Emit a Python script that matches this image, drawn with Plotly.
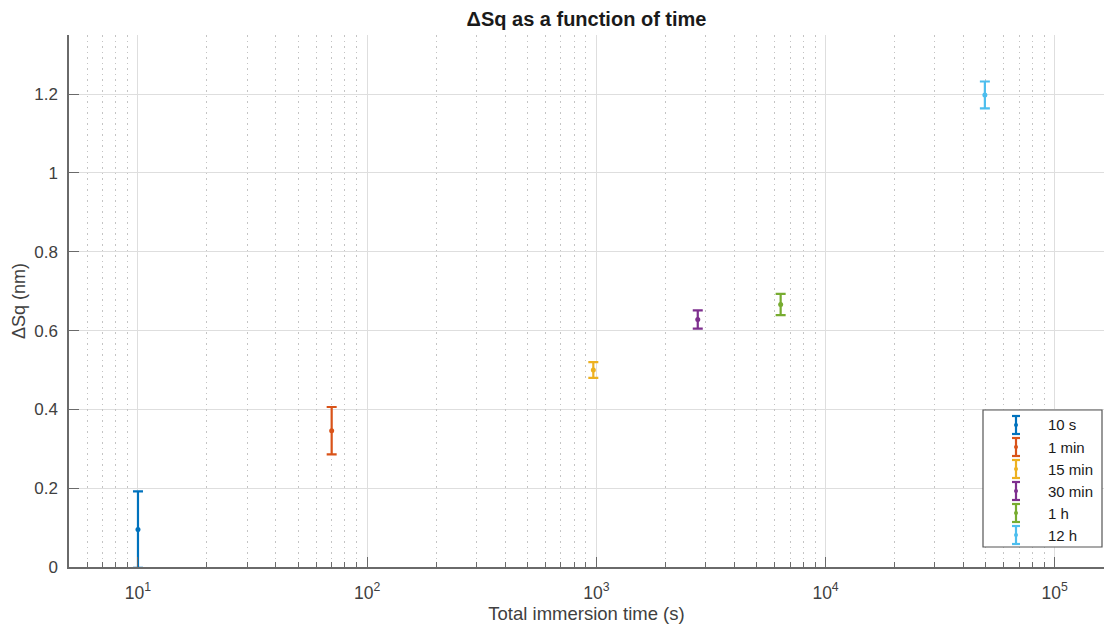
import plotly.graph_objects as go

categories = ["10 s", "1 min", "15 min", "30 min", "1 h", "12 h"]
times = [10, 70, 970, 2770, 6370, 49570]
dsq = [0.095, 0.346, 0.500, 0.628, 0.666, 1.198]
err = [0.097, 0.060, 0.020, 0.023, 0.027, 0.034]
colors = ["#0072BD", "#D95319", "#EDB120", "#7E2F8E", "#77AC30", "#4DBEEE"]

x_tickvals = [10, 100, 1000, 10000, 100000]
x_ticktext = ["10<sup>1</sup>", "10<sup>2</sup>", "10<sup>3</sup>", "10<sup>4</sup>", "10<sup>5</sup>"]
y_tickvals = [0, 0.2, 0.4, 0.6, 0.8, 1.0, 1.2]
y_ticktext = ["0", "0.2", "0.4", "0.6", "0.8", "1", "1.2"]

W, H = 1106, 628
L, R, T, B = 69, 2, 35, 61
pw, ph = W - L - R, H - T - B
xrange_log = [0.699, 5.215]

minor_vals = [m * 10 ** d for d in range(0, 6) for m in range(2, 10)
              if 10 ** xrange_log[0] <= m * 10 ** d <= 10 ** xrange_log[1]]

fig = go.Figure()
# invisible trace to anchor the minor-grid axis
fig.add_trace(go.Scatter(x=[times[0]], y=[dsq[0]], xaxis="x2", yaxis="y", mode="markers",
                         marker=dict(opacity=0), showlegend=False, hoverinfo="skip"))
for c, t, v, e, col in zip(categories, times, dsq, err, colors):
    fig.add_trace(go.Scatter(
        x=[t], y=[v], mode="markers", name=c, showlegend=False,
        marker=dict(color=col, size=5),
        error_y=dict(type="data", array=[e], color=col, thickness=2.2, width=5),
        cliponaxis=False,
    ))

font_family = "Liberation Sans, Arial, sans-serif"
axis_col = "#6a6a6a"
label_col = "#404040"

fig.update_layout(
    width=W, height=H,
    margin=dict(l=L, r=R, t=T, b=B),
    paper_bgcolor="white", plot_bgcolor="white",
    font=dict(family=font_family, color=label_col, size=15),
    title=dict(text="<b>ΔSq as a function of time</b>", x=(L + pw / 2) / W, xanchor="center",
               y=1 - 19 / H, yanchor="middle", font=dict(size=20, color="#1a1a1a")),
    xaxis=dict(
        type="log", range=xrange_log,
        tickvals=x_tickvals, ticktext=x_ticktext,
        showline=True, linecolor=axis_col, linewidth=1.5,
        ticks="inside", ticklen=10, tickcolor=axis_col, tickwidth=1,
        showgrid=True, gridcolor="#dedede", gridwidth=1,
        zeroline=False, mirror=False,
        tickfont=dict(size=17.5, color=label_col),
        ticklabelstandoff=9,
        title=dict(text="Total immersion time (s)", font=dict(size=18.5, color=label_col), standoff=5),
    ),
    xaxis2=dict(
        type="log", range=xrange_log, overlaying="x", anchor="y", side="bottom",
        tickmode="array", tickvals=minor_vals,
        ticks="inside", ticklen=5, tickcolor=axis_col, tickwidth=1,
        showgrid=True, gridcolor="#c4c4c4", griddash="1.5px,4px", gridwidth=1,
        showline=False, zeroline=False, showticklabels=False,
    ),
    yaxis=dict(
        range=[0, 1.35],
        tickvals=y_tickvals, ticktext=y_ticktext,
        showline=True, linecolor=axis_col, linewidth=1.5,
        ticks="inside", ticklen=10, tickcolor=axis_col,
        showgrid=True, gridcolor="#dedede", gridwidth=1,
        zeroline=False,
        tickfont=dict(size=17, color=label_col),
        ticklabelstandoff=6,
        title=dict(text="ΔSq (nm)", font=dict(size=18, color=label_col), standoff=4),
    ),
)

# Manual legend (MATLAB-style errorbar icons)
def px(xp):
    return (xp - L) / pw

def py(yp):
    return (H - B - yp) / ph

shapes = [dict(type="rect", xref="paper", yref="paper",
               x0=px(983), x1=px(1102), y0=py(547), y1=py(410),
               line=dict(color="#555555", width=1.2), fillcolor="white", layer="above")]
annotations = []
y0 = 425
for i, (c, col) in enumerate(zip(categories, colors)):
    yc = y0 + i * 22
    xi = 1016
    shapes.append(dict(type="line", xref="paper", yref="paper", x0=px(xi), x1=px(xi),
                       y0=py(yc - 9), y1=py(yc + 9), line=dict(color=col, width=2.2), layer="above"))
    for yy in (yc - 9, yc + 9):
        shapes.append(dict(type="line", xref="paper", yref="paper", x0=px(xi - 4), x1=px(xi + 4),
                           y0=py(yy), y1=py(yy), line=dict(color=col, width=2.2), layer="above"))
    shapes.append(dict(type="circle", xref="paper", yref="paper", x0=px(xi - 2), x1=px(xi + 2),
                       y0=py(yc + 2), y1=py(yc - 2), fillcolor=col, line=dict(width=0), layer="above"))
    annotations.append(dict(text=c, xref="paper", yref="paper", x=px(1046), y=py(yc),
                            xanchor="left", yanchor="middle", showarrow=False,
                            font=dict(size=15, color="#1a1a1a")))

fig.update_layout(shapes=shapes, annotations=annotations)
fig.write_html("out.html")
